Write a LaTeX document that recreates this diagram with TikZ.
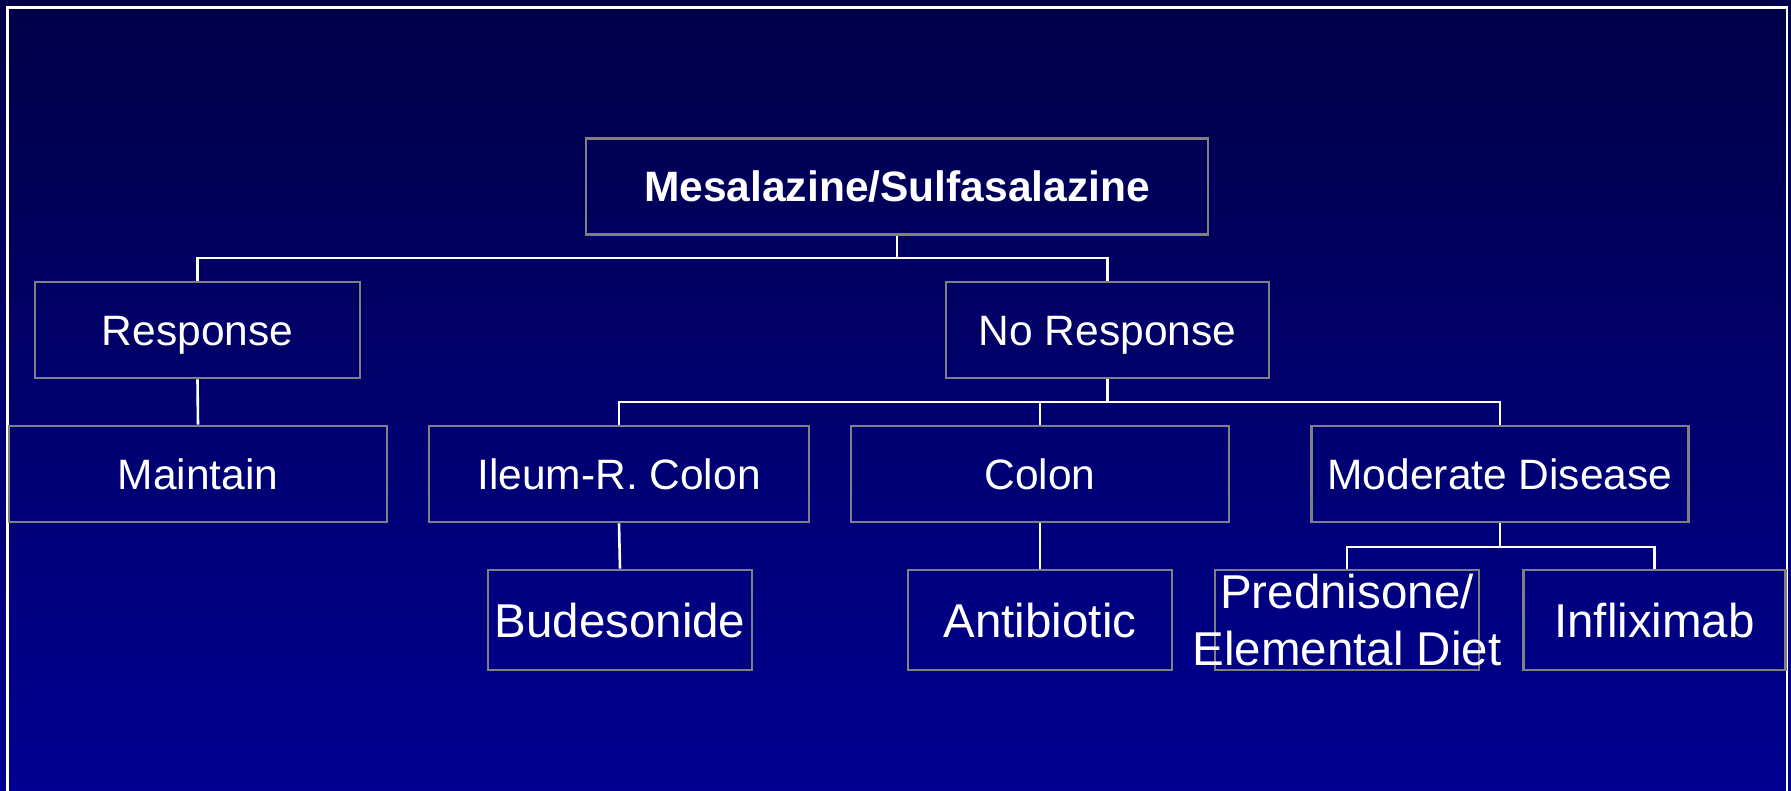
\documentclass[tikz,border=0pt]{standalone}
\usepackage{fontspec}
\setmainfont{Liberation Sans}
\definecolor{bgtop}{RGB}{0,0,72}
\definecolor{bgbot}{RGB}{0,0,146}
\definecolor{boxline}{RGB}{128,128,128}
\begin{document}
\begin{tikzpicture}[x=1pt,y=-1pt,
  boxbase/.style={draw=boxline, line width=2.6pt, inner sep=0pt, text=white},
  box/.style={boxbase, minimum height=96pt, text height=30.4pt, text depth=0pt,
    font=\fontsize{42.5}{50}\selectfont},
  leaf/.style={boxbase, minimum height=100pt, text height=34pt, text depth=0pt,
    font=\fontsize{47.5}{57}\selectfont},
  leaftwo/.style={boxbase, minimum height=100pt, align=center,
    font=\fontsize{47.5}{57}\selectfont},
  conn/.style={draw=white, line width=2.6pt}]
\useasboundingbox (0,0) rectangle (1791,790);
\shade[top color=bgtop, bottom color=bgbot] (0,0) rectangle (1791,790);
\draw[white, line width=2.6pt] (7.5,800) -- (7.5,7.5) -- (1786.8,7.5) -- (1786.8,800);
% level 1
\node[box, minimum width=622pt, font=\fontsize{42.5}{50}\selectfont\bfseries] (mes) at (897,186.5) {Mesalazine/Sulfasalazine};
% level 2
\node[box, minimum width=325pt] (resp) at (197.5,330) {Response};
\node[box, minimum width=323pt] (nores) at (1107.5,330) {No Response};
% level 3
\node[box, minimum width=378pt] (maint) at (198,474) {Maintain};
\node[box, minimum width=380pt] (ileum) at (619,474) {Ileum-R. Colon};
\node[box, minimum width=378pt] (colon) at (1040,474) {Colon};
\node[box, minimum width=377pt] (mod) at (1500,474) {Moderate Disease};
% level 4
\node[leaf, minimum width=264pt] (bud) at (620,620) {Budesonide};
\node[leaf, minimum width=264pt] (anti) at (1040,620) {Antibiotic};
\node[leaftwo, minimum width=264pt] (pred) at (1347,620) {\makebox[0pt]{Prednisone/}\\\makebox[0pt]{Elemental Diet}};
\node[leaf, minimum width=262pt] (infl) at (1654.5,620) {Infliximab};
% connectors
\coordinate (j1) at (897,258);
\coordinate (j2) at (1107.5,402);
\coordinate (j3) at (1500,547);
\draw[conn] (mes.south) -- (j1);
\draw[conn] (resp.north) |- (j1) -| (nores.north);
\draw[conn] (resp.south) -- (maint.north);
\draw[conn] (nores.south) -- (j2);
\draw[conn] (ileum.north) |- (j2) -| (mod.north);
\draw[conn] (colon.north) -- (colon.north |- j2);
\draw[conn] (ileum.south) -- (bud.north);
\draw[conn] (colon.south) -- (anti.north);
\draw[conn] (mod.south) -- (j3);
\draw[conn] (pred.north) |- (j3) -| (infl.north);
\end{tikzpicture}
\end{document}
